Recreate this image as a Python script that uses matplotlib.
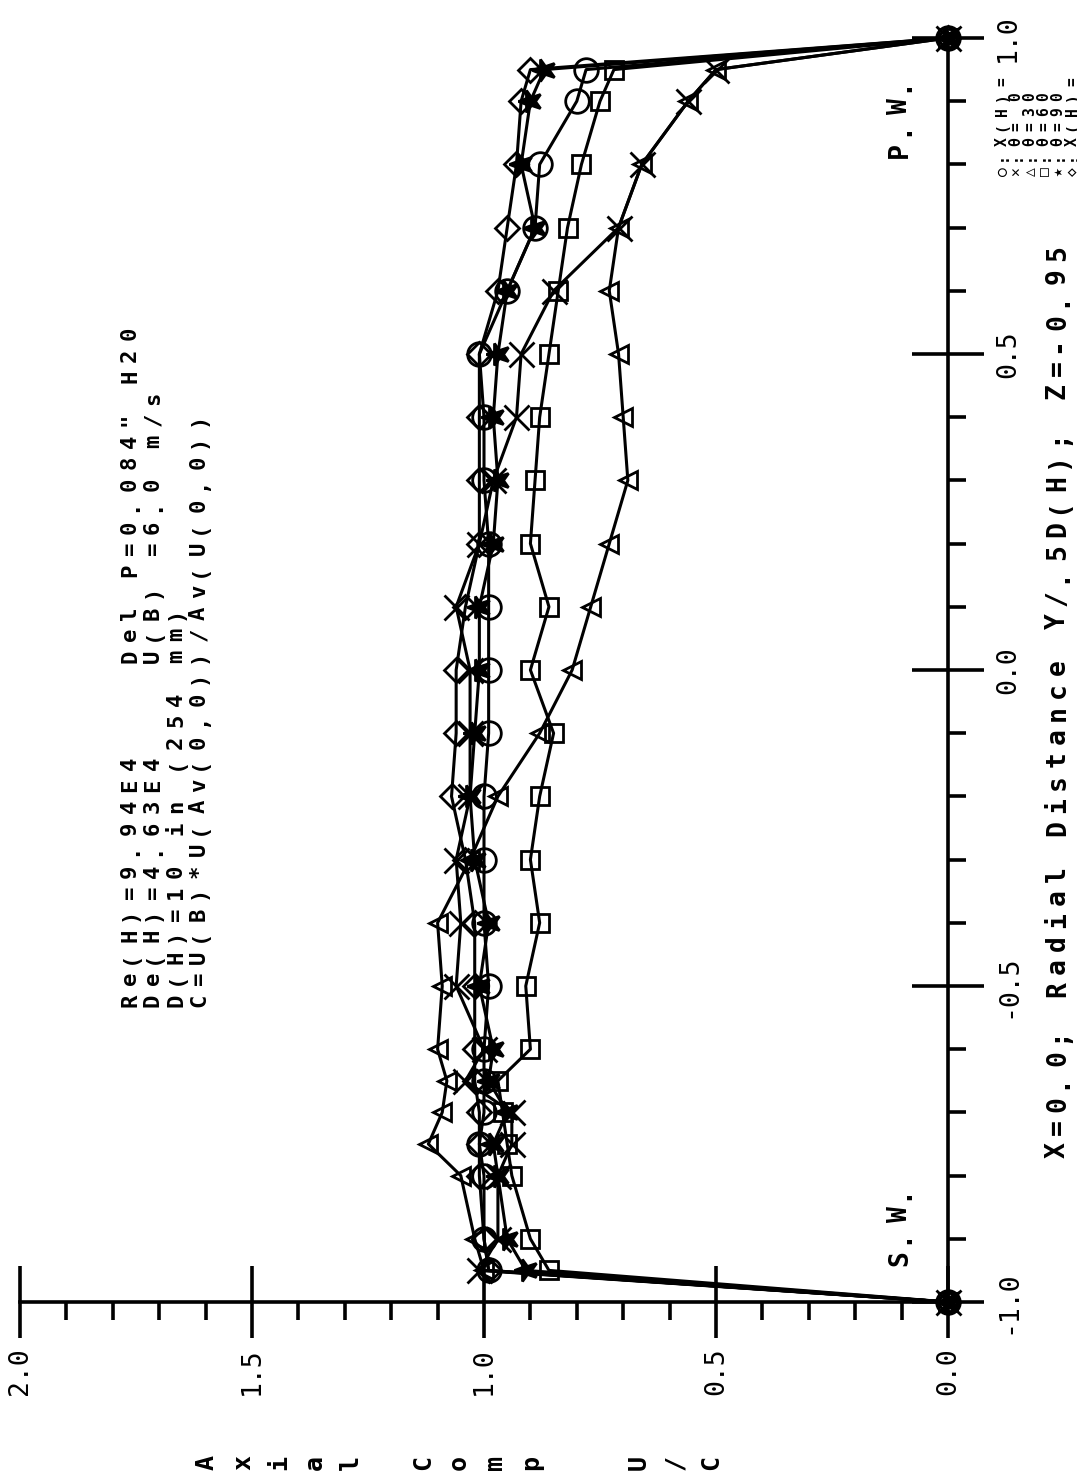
import matplotlib
matplotlib.use("Agg")
import matplotlib.pyplot as plt
from matplotlib.markers import MarkerStyle
from matplotlib.ticker import MultipleLocator, FormatStrFormatter
from matplotlib.transforms import Affine2D

W, H = 1077, 1482

# radial station Y/.5D(H) and axial component U/C for each traverse
radial = [-1.0, -0.95, -0.9, -0.8, -0.75, -0.7, -0.65, -0.6, -0.5, -0.4, -0.3, -0.2, -0.1,
          0.0, 0.1, 0.2, 0.3, 0.4, 0.5, 0.6, 0.7, 0.8, 0.9, 0.95, 1.0]
uc_circle = [0, 0.99, 1.00, 1.00, 1.01, 1.00, 1.00, 1.00, 0.99, 1.00, 1.00, 1.00, 0.99,
             0.99, 0.99, 0.99, 1.00, 1.00, 1.01, 0.95, 0.89, 0.88, 0.80, 0.78, 0]
uc_th0 = [0, 1.01, 0.97, 0.97, 0.94, 0.94, 1.04, 1.00, 1.06, 1.05, 1.06, 1.03, 1.03,
          1.03, 1.06, 1.01, 0.98, 0.93, 0.92, 0.85, 0.71, 0.66, 0.56, 0.50, 0]
uc_th30 = [0, 1.00, 1.02, 1.05, 1.12, 1.09, 1.08, 1.10, 1.09, 1.10, 1.03, 0.97, 0.88,
           0.81, 0.77, 0.73, 0.69, 0.70, 0.71, 0.73, 0.71, 0.66, 0.56, 0.50, 0]
uc_th60 = [0, 0.86, 0.90, 0.94, 0.95, 0.96, 0.97, 0.90, 0.91, 0.88, 0.90, 0.88, 0.85,
           0.90, 0.86, 0.90, 0.89, 0.88, 0.86, 0.84, 0.82, 0.79, 0.75, 0.72, 0]
uc_th90 = [0, 0.91, 0.95, 0.97, 0.98, 0.95, 0.99, 0.98, 1.01, 0.99, 1.02, 1.03, 1.02,
           1.01, 1.01, 0.98, 0.97, 0.98, 0.97, 0.95, 0.89, 0.92, 0.90, 0.87, 0]
uc_diamond = [0, 0.99, 1.00, 1.01, 1.01, 1.01, 1.02, 1.02, 1.02, 1.02, 1.04, 1.07, 1.06,
              1.06, 1.04, 1.01, 1.01, 1.01, 1.01, 0.97, 0.95, 0.93, 0.92, 0.90, 0]

legend_labels = ["\u25cb:X(H)=", "\u2715:\u03b8= 0", "\u25b3:\u03b8=30",
                 "\u25a1:\u03b8=60", "\u2605:\u03b8=90", "\u25c7:X(H)="]
info_lines = ["Re(H)=9.94E4    Del P=0.084\" H20",
              "De(H)=4.63E4    U(B) =6.0 m/s",
              "D(H)=10 in (254 mm)",
              "C=U(B)*U(Av(0,0))/Av(U(0,0))"]

plt.rcParams["font.family"] = ["DejaVu Sans Mono", "DejaVu Sans"]
plt.rcParams["axes.unicode_minus"] = False

fig = plt.figure(figsize=(W / 100, H / 100), dpi=100)
# page is turned a quarter: U/C runs right-to-left, radial runs bottom-to-top
ax = fig.add_axes([20 / W, 1 - 1302 / H, 928 / W, 1264 / H])
ax.set_xlim(2.0, 0.0)
ax.set_ylim(-1.0, 1.0)

star = MarkerStyle("*", transform=Affine2D().rotate_deg(90))
styles = [
    (uc_circle, "o", 17, "none"),
    (uc_th0, "x", 18, "none"),
    (uc_th30, "<", 13, "none"),
    (uc_th60, "s", 13, "none"),
    (uc_th90, star, 17, "black"),
    (uc_diamond, "D", 12, "none"),
]
for vals, mk, ms, fc in styles:
    ax.plot(vals, radial, color="black", lw=2.2, marker=mk, ms=ms, mfc=fc,
            mec="black", mew=2.0, clip_on=False)

for side in ("left", "top"):
    ax.spines[side].set_visible(False)
for side in ("right", "bottom"):
    ax.spines[side].set_linewidth(2.6)

ax.yaxis.tick_right()
ax.xaxis.set_major_locator(MultipleLocator(0.5))
ax.xaxis.set_minor_locator(MultipleLocator(0.1))
ax.yaxis.set_major_locator(MultipleLocator(0.5))
ax.yaxis.set_minor_locator(MultipleLocator(0.1))
ax.xaxis.set_major_formatter(FormatStrFormatter("%.1f"))
ax.yaxis.set_major_formatter(FormatStrFormatter("%.1f"))
ax.tick_params(which="major", direction="inout", length=52, width=2.6, labelsize=19,
               labelrotation=90)
ax.tick_params(which="minor", direction="out", length=13, width=2.6)
ax.tick_params(axis="x", which="major", pad=7)
ax.tick_params(axis="y", which="major", pad=8)
for lab in ax.get_yticklabels():
    lab.set_va("center")
    lab.set_ha("left")


def vtext(x, y, s, size=19, pitch=22):
    """Characters turned 90 deg, reading upward from pixel (x, y)."""
    for i, ch in enumerate(s):
        if ch == " ":
            continue
        fig.text(x / W, 1 - (y - i * pitch) / H, ch, rotation=90, rotation_mode="anchor",
                 ha="center", va="center", fontsize=size, fontweight="bold")


def htext(x, y, s, size=18, pitch=36):
    """Stacked axis title: turned characters laid left to right."""
    for i, ch in enumerate(s):
        if ch == " ":
            continue
        fig.text((x + i * pitch) / W, 1 - y / H, ch, rotation=90, rotation_mode="anchor",
                 ha="center", va="center", fontsize=size, fontweight="bold")


for i, line in enumerate(info_lines):
    vtext(130 + 23 * i, 1000, line, size=16, pitch=21.5)

vtext(1058, 1150, "X=0.0; Radial Distance Y/.5D(H); Z=-0.95", pitch=23)
htext(207, 1463, "Axial Comp  U/C")
vtext(900, 1258, "S.W.")
vtext(900, 150, "P.W.")

for i, lab in enumerate(legend_labels):
    vtext(1002 + 14 * i, 172, lab, size=10.5, pitch=15)

fig.savefig("out.png", dpi=100)
